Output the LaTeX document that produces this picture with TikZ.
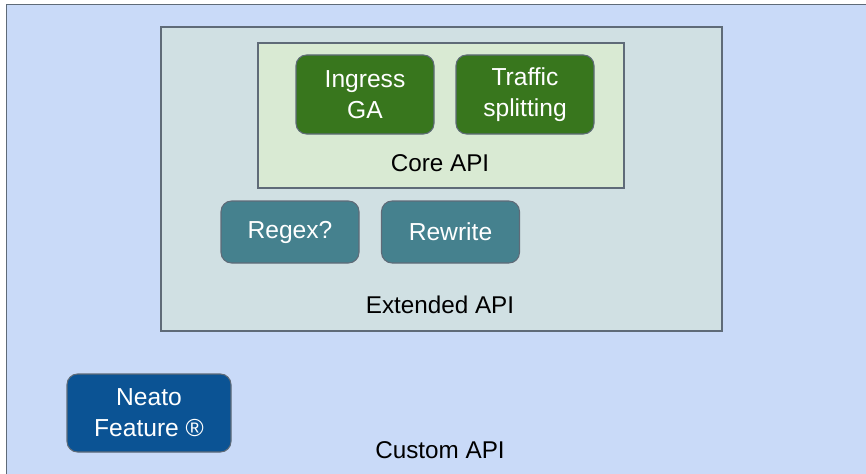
\documentclass[tikz,border=0pt]{standalone}
\usepackage{fontspec}
\setmainfont{Liberation Sans}
\usetikzlibrary{positioning}
\definecolor{edge}{HTML}{5F6B78}
\definecolor{customlt}{HTML}{C9DAF8}
\definecolor{extlt}{HTML}{D0E0E3}
\definecolor{corelt}{HTML}{D9EAD3}
\definecolor{coredk}{HTML}{38761D}
\definecolor{extdk}{HTML}{45818E}
\definecolor{customdk}{HTML}{0B5394}
\tikzset{
  area/.style={draw=edge, line width=0.6pt, inner sep=0pt},
  feat/.style={draw=edge, line width=0.6pt, rounded corners=6pt, align=center,
               text=white, minimum width=2.76cm, minimum height=1.58cm,
               font=\fontsize{14}{17.5}\selectfont},
  lbl/.style={font=\fontsize{13.8}{17}\selectfont, text=black}
}
\begin{document}
\begin{tikzpicture}[x=1cm,y=1cm]
  \useasboundingbox (0,0) rectangle (17.32,9.46);
  \clip (0,0) rectangle (17.32,9.46);
  \fill[white] (0,0) rectangle (17.32,9.46);

  % nested API areas
  \node[area, fill=customlt, minimum width=17.4cm, minimum height=9.5cm, anchor=north west] (custom) at (0.12,9.38) {};
  \node[area, fill=extlt, minimum width=11.22cm, minimum height=6.08cm] (ext) at (8.83,5.88) {};
  \node[area, fill=corelt, minimum width=7.32cm, minimum height=2.9cm] (core) at (8.82,7.15) {};

  % core features
  \node[feat, fill=coredk] (ingress) at (7.3,7.57) {Ingress\\GA};
  \node[feat, fill=coredk] (traffic) at (10.5,7.57) {Traffic\\splitting};
  \node[lbl] (corelbl) at (8.8,6.2) {Core API};

  % extended features
  \node[feat, fill=extdk, minimum height=1.24cm] (regex) at (5.8,4.82) {Regex?};
  \node[feat, fill=extdk, minimum height=1.24cm] (rewrite) at (9.01,4.82) {Rewrite};
  \node[lbl] (extlbl) at (8.8,3.36) {Extended API};

  % custom
  \node[feat, fill=customdk, minimum width=3.28cm, minimum height=1.56cm] (neato) at (2.98,1.2) {Neato\\Feature ®};
  \node[lbl] (customlbl) at (8.8,0.46) {Custom API};
\end{tikzpicture}
\end{document}
